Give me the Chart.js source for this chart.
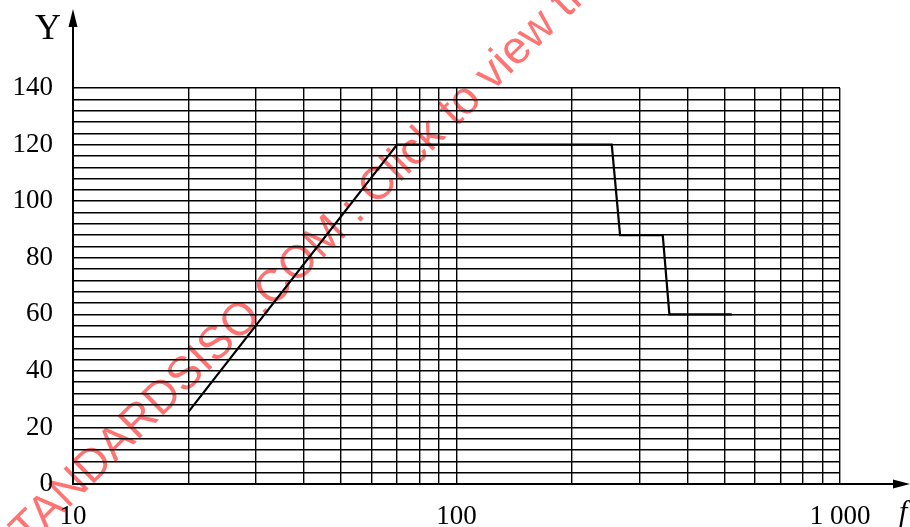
<!DOCTYPE html>
<html>
<head>
<meta charset="utf-8">
<script src="https://cdn.jsdelivr.net/npm/chart.js@4/dist/chart.umd.min.js"></script>
<style>
  html, body { margin: 0; padding: 0; background: #fff; }
  canvas { display: block; }
</style>
</head>
<body>
<canvas id="c" width="910" height="527"></canvas>
<script>
// Frequency (f) breakpoints of the limit curve and the matching Y values
const freq = [20, 70, 254, 267, 345, 359, 522];
const yLimit = [25.5, 120, 120, 88, 88, 60, 60];

// Logarithmic grid on the frequency axis and the labelled decades
const xGridValues = [10, 20, 30, 40, 50, 60, 70, 80, 90,
                     100, 200, 300, 400, 500, 600, 700, 800, 900, 1000];
const xLabelValues = [10, 100, 1000];
const xLabelTexts = ['10', '100', '1 000'];

// Y axis: grid every 4 units, labels every 20
const yMin = 0, yMax = 140, yGridStep = 4, yLabelStep = 20;

const axisTitleY = 'Y';
const axisTitleX = 'f';
const stampText = 'STANDARDSISO.COM : Click to view the full PDF';

const serif = '"Liberation Serif", "DejaVu Serif", serif';

// Red stamp text drawn diagonally beneath the grid, positioned by its colon
const stampPlugin = {
  id: 'stamp',
  beforeDraw(chart) {
    const ctx = chart.ctx;
    const size = 46;
    ctx.save();
    ctx.font = size + 'px "Liberation Sans", Arial, sans-serif';
    ctx.fillStyle = 'rgba(255, 0, 0, 0.55)';
    ctx.textBaseline = 'alphabetic';
    const before = ctx.measureText('STANDARDSISO.COM ').width;
    const colonHalf = ctx.measureText(':').width / 2;
    ctx.translate(362, 220);
    ctx.rotate(-44.5 * Math.PI / 180);
    ctx.fillText(stampText, -(before + colonHalf), 0);
    ctx.restore();
  }
};

// Arrow-headed axes and their titles
const arrowAxesPlugin = {
  id: 'arrowAxes',
  afterDraw(chart) {
    const ctx = chart.ctx;
    const a = chart.chartArea;
    ctx.save();
    ctx.strokeStyle = '#000';
    ctx.fillStyle = '#000';
    ctx.lineWidth = 2;
    // vertical axis extension and arrow
    ctx.beginPath();
    ctx.moveTo(a.left, a.top);
    ctx.lineTo(a.left, 22);
    ctx.stroke();
    ctx.beginPath();
    ctx.moveTo(a.left, 9);
    ctx.lineTo(a.left - 4.5, 27);
    ctx.lineTo(a.left + 4.5, 27);
    ctx.closePath();
    ctx.fill();
    // horizontal axis extension and arrow
    ctx.beginPath();
    ctx.moveTo(a.right, a.bottom);
    ctx.lineTo(898, a.bottom);
    ctx.stroke();
    ctx.beginPath();
    ctx.moveTo(910, a.bottom);
    ctx.lineTo(893, a.bottom - 4.5);
    ctx.lineTo(893, a.bottom + 4.5);
    ctx.closePath();
    ctx.fill();
    // titles
    ctx.font = '36px ' + serif;
    ctx.textAlign = 'right';
    ctx.textBaseline = 'alphabetic';
    ctx.fillText(axisTitleY, 61, 39);
    ctx.font = 'italic 30px ' + serif;
    ctx.textAlign = 'left';
    ctx.fillText(axisTitleX, 899, 521);
    ctx.restore();
  }
};

new Chart(document.getElementById('c'), {
  type: 'scatter',
  data: {
    datasets: [{
      data: freq.map((f, i) => ({ x: f, y: yLimit[i] })),
      showLine: true,
      borderColor: '#000',
      borderWidth: 2.2,
      pointRadius: 0,
      tension: 0,
      fill: false
    }]
  },
  options: {
    responsive: false,
    devicePixelRatio: 1,
    animation: false,
    events: [],
    layout: { padding: { left: 0, right: 70, top: 88, bottom: 0 } },
    plugins: { legend: { display: false }, tooltip: { enabled: false } },
    scales: {
      x: {
        type: 'logarithmic',
        min: 10,
        max: 1000,
        afterBuildTicks(scale) {
          scale.ticks = xGridValues.map(v => ({ value: v }));
        },
        afterFit(scale) { scale.height = 43; },
        grid: { color: '#000', lineWidth: 1.4, drawTicks: false },
        border: { display: true, color: '#000', width: 2 },
        ticks: {
          autoSkip: false,
          maxRotation: 0,
          padding: 17,
          color: '#000',
          font: { family: serif, size: 27 },
          callback(value) {
            const k = xLabelValues.indexOf(value);
            return k >= 0 ? xLabelTexts[k] : '';
          }
        }
      },
      y: {
        min: yMin,
        max: yMax,
        afterFit(scale) { scale.width = 73; },
        grid: { color: '#000', lineWidth: 1.4, drawTicks: false },
        border: { display: true, color: '#000', width: 2 },
        ticks: {
          stepSize: yGridStep,
          autoSkip: false,
          padding: 20,
          color: '#000',
          font: { family: serif, size: 27 },
          callback(value) {
            return value % yLabelStep === 0 ? String(value) : '';
          }
        }
      }
    }
  },
  plugins: [stampPlugin, arrowAxesPlugin]
});
</script>
</body>
</html>
